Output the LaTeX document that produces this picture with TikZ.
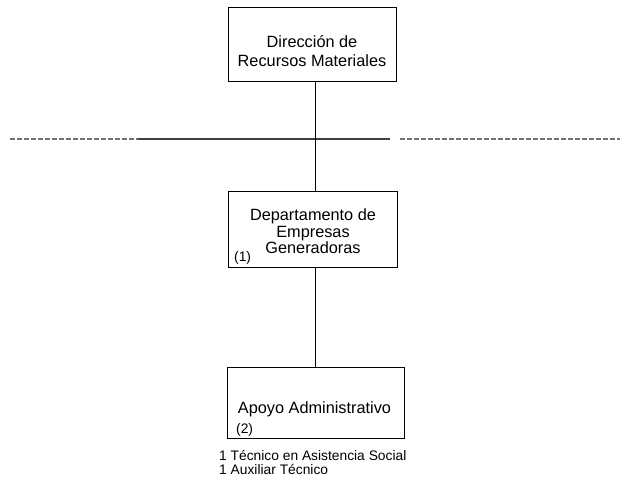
\documentclass[tikz,border=0pt]{standalone}
\usepackage{fontspec}
\setmainfont{Liberation Sans}
\begin{document}
\begin{tikzpicture}[x=1pt,y=-1pt,
  box/.style={draw=black,line width=1pt,minimum width=#1,inner sep=0pt},
  big/.style={font=\fontsize{16.3}{18}\selectfont,anchor=base,inner sep=0pt},
  small/.style={font=\fontsize{13.8}{15}\selectfont,anchor=base west,inner sep=0pt},
  conn/.style={draw=black,line width=1pt},
  hsolid/.style={draw=black!75,line width=1.2pt},
  hdash/.style={draw=black!55,line width=1.1pt,dash pattern=on 5pt off 2pt}]
\useasboundingbox (0,0) rectangle (620,478);
\node[box=168pt,minimum height=74pt] (b1) at (312,45) {};
\node[box=169pt,minimum height=75pt] (b2) at (312.5,229.5) {};
\node[box=177pt,minimum height=71pt] (b3) at (315.5,402.5) {};
% texts
\node[big] (t1a) at (312,47.5) {Dirección de};
\node[big] (t1b) at (312,67) {Recursos Materiales};
\node[big] (t2a) at (313,220) {Departamento de};
\node[big] (t2b) at (313,237) {Empresas};
\node[big] (t2c) at (313,253) {Generadoras};
\node[small] (n1) at (234,261) {(1)};
\node[big] (t3) at (314.5,413) {Apoyo Administrativo};
\node[small] (n2) at (236,433) {(2)};
\node[small] (f1) at (219,460) {1 Técnico en Asistencia Social};
\node[small] (f2) at (219,474) {1 Auxiliar Técnico};
% horizontal line
\coordinate (h1) at (10,139);
\coordinate (h2) at (138,139);
\coordinate (h3) at (390,139);
\coordinate (h4) at (400,139);
\coordinate (h5) at (620,139);
\draw[hdash] (h1) -- (h2);
\draw[hsolid] (h2) -- (h3);
\draw[hdash] (h4) -- (h5);
% connectors
\draw[conn] ([xshift=3pt]b1.south) -- ([xshift=3pt]b1.south |- b2.north);
\draw[conn] ([xshift=2.5pt]b2.south) -- ([xshift=2.5pt]b2.south |- b3.north);
\end{tikzpicture}
\end{document}
